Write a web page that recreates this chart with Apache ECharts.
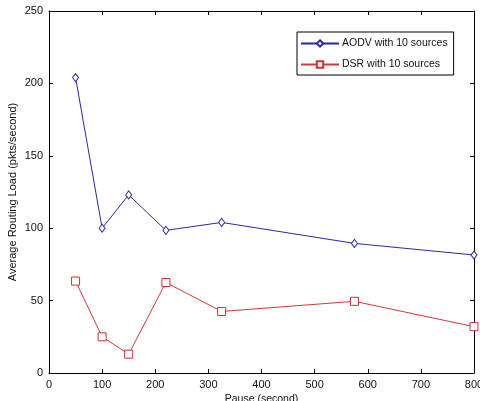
<!DOCTYPE html>
<html><head><meta charset="utf-8">
<script src="https://cdn.jsdelivr.net/npm/echarts@6/dist/echarts.min.js"></script>
<style>html,body{margin:0;padding:0;background:#fff}#c{width:480px;height:401px}</style>
</head><body><div id="c"></div>
<script>
const pauseTimes = [50, 100, 150, 220, 325, 575, 800];
const aodvLoad = [204, 100, 123, 98.5, 104, 89.5, 81.5];
const dsrLoad = [63.5, 25, 13, 62.5, 42.5, 49.5, 32];
const seriesNames = ['AODV with 10 sources', 'DSR with 10 sources'];
const xTitle = 'Pause (second)';
const yTitle = 'Average Routing Load (pkts/second)';

const font = 'Liberation Sans, Arial, sans-serif';
const toPairs = (xs, ys) => xs.map((x, i) => [x, ys[i]]);
const baseX = {type:'value', min:0, max:800, interval:100, splitLine:{show:false},
  axisLine:{onZero:false, lineStyle:{color:'#000', width:1}}, axisTick:{inside:true, length:4, lineStyle:{color:'#000'}}};
const baseY = {type:'value', min:0, max:250, interval:50, splitLine:{show:false},
  axisLine:{onZero:false, lineStyle:{color:'#000', width:1}}, axisTick:{inside:true, length:4, lineStyle:{color:'#000'}}};

const chart = echarts.init(document.getElementById('c'), null, {renderer:'canvas'});
chart.setOption({
  animation:false,
  backgroundColor:'#fff',
  grid:{left:49, right:6, top:11, bottom:28, containLabel:false, outerBoundsMode:'none'},
  legend:{
    orient:'vertical', left:297, top:32, width:155,
    data:seriesNames,
    backgroundColor:'#fff', borderColor:'#000', borderWidth:1,
    padding:[6,6,5,3], itemWidth:38, itemHeight:8, itemGap:10,
    textStyle:{fontFamily:font, fontSize:10.5, color:'#111', padding:[0,0,0,-2]}
  },
  xAxis:[
    Object.assign({}, baseX, {position:'bottom', name:xTitle, nameLocation:'middle', nameGap:21, nameMoveOverlap:false,
      nameTextStyle:{fontFamily:font, fontSize:10.5, color:'#111'},
      axisLabel:{fontFamily:font, fontSize:11, color:'#111', margin:6}}),
    Object.assign({}, baseX, {position:'top', axisLabel:{show:false}})
  ],
  yAxis:[
    Object.assign({}, baseY, {position:'left', name:yTitle, nameLocation:'middle', nameGap:31, nameRotate:90, nameMoveOverlap:false,
      nameTextStyle:{fontFamily:font, fontSize:11, color:'#111'},
      axisLabel:{fontFamily:font, fontSize:11, color:'#111', margin:6}}),
    Object.assign({}, baseY, {position:'right', axisLabel:{show:false}})
  ],
  series:[
    {name:seriesNames[0], type:'line', data:toPairs(pauseTimes, aodvLoad),
      symbol:'diamond', symbolSize:[6,8],
      itemStyle:{color:'#fff', borderColor:'#2a2a9a', borderWidth:1},
      lineStyle:{color:'#2a2a9a', width:1}},
    {name:seriesNames[1], type:'line', data:toPairs(pauseTimes, dsrLoad),
      symbol:'rect', symbolSize:8,
      itemStyle:{color:'#fff', borderColor:'#c83232', borderWidth:1},
      lineStyle:{color:'#d03a3a', width:1}}
  ]
});
</script></body></html>
